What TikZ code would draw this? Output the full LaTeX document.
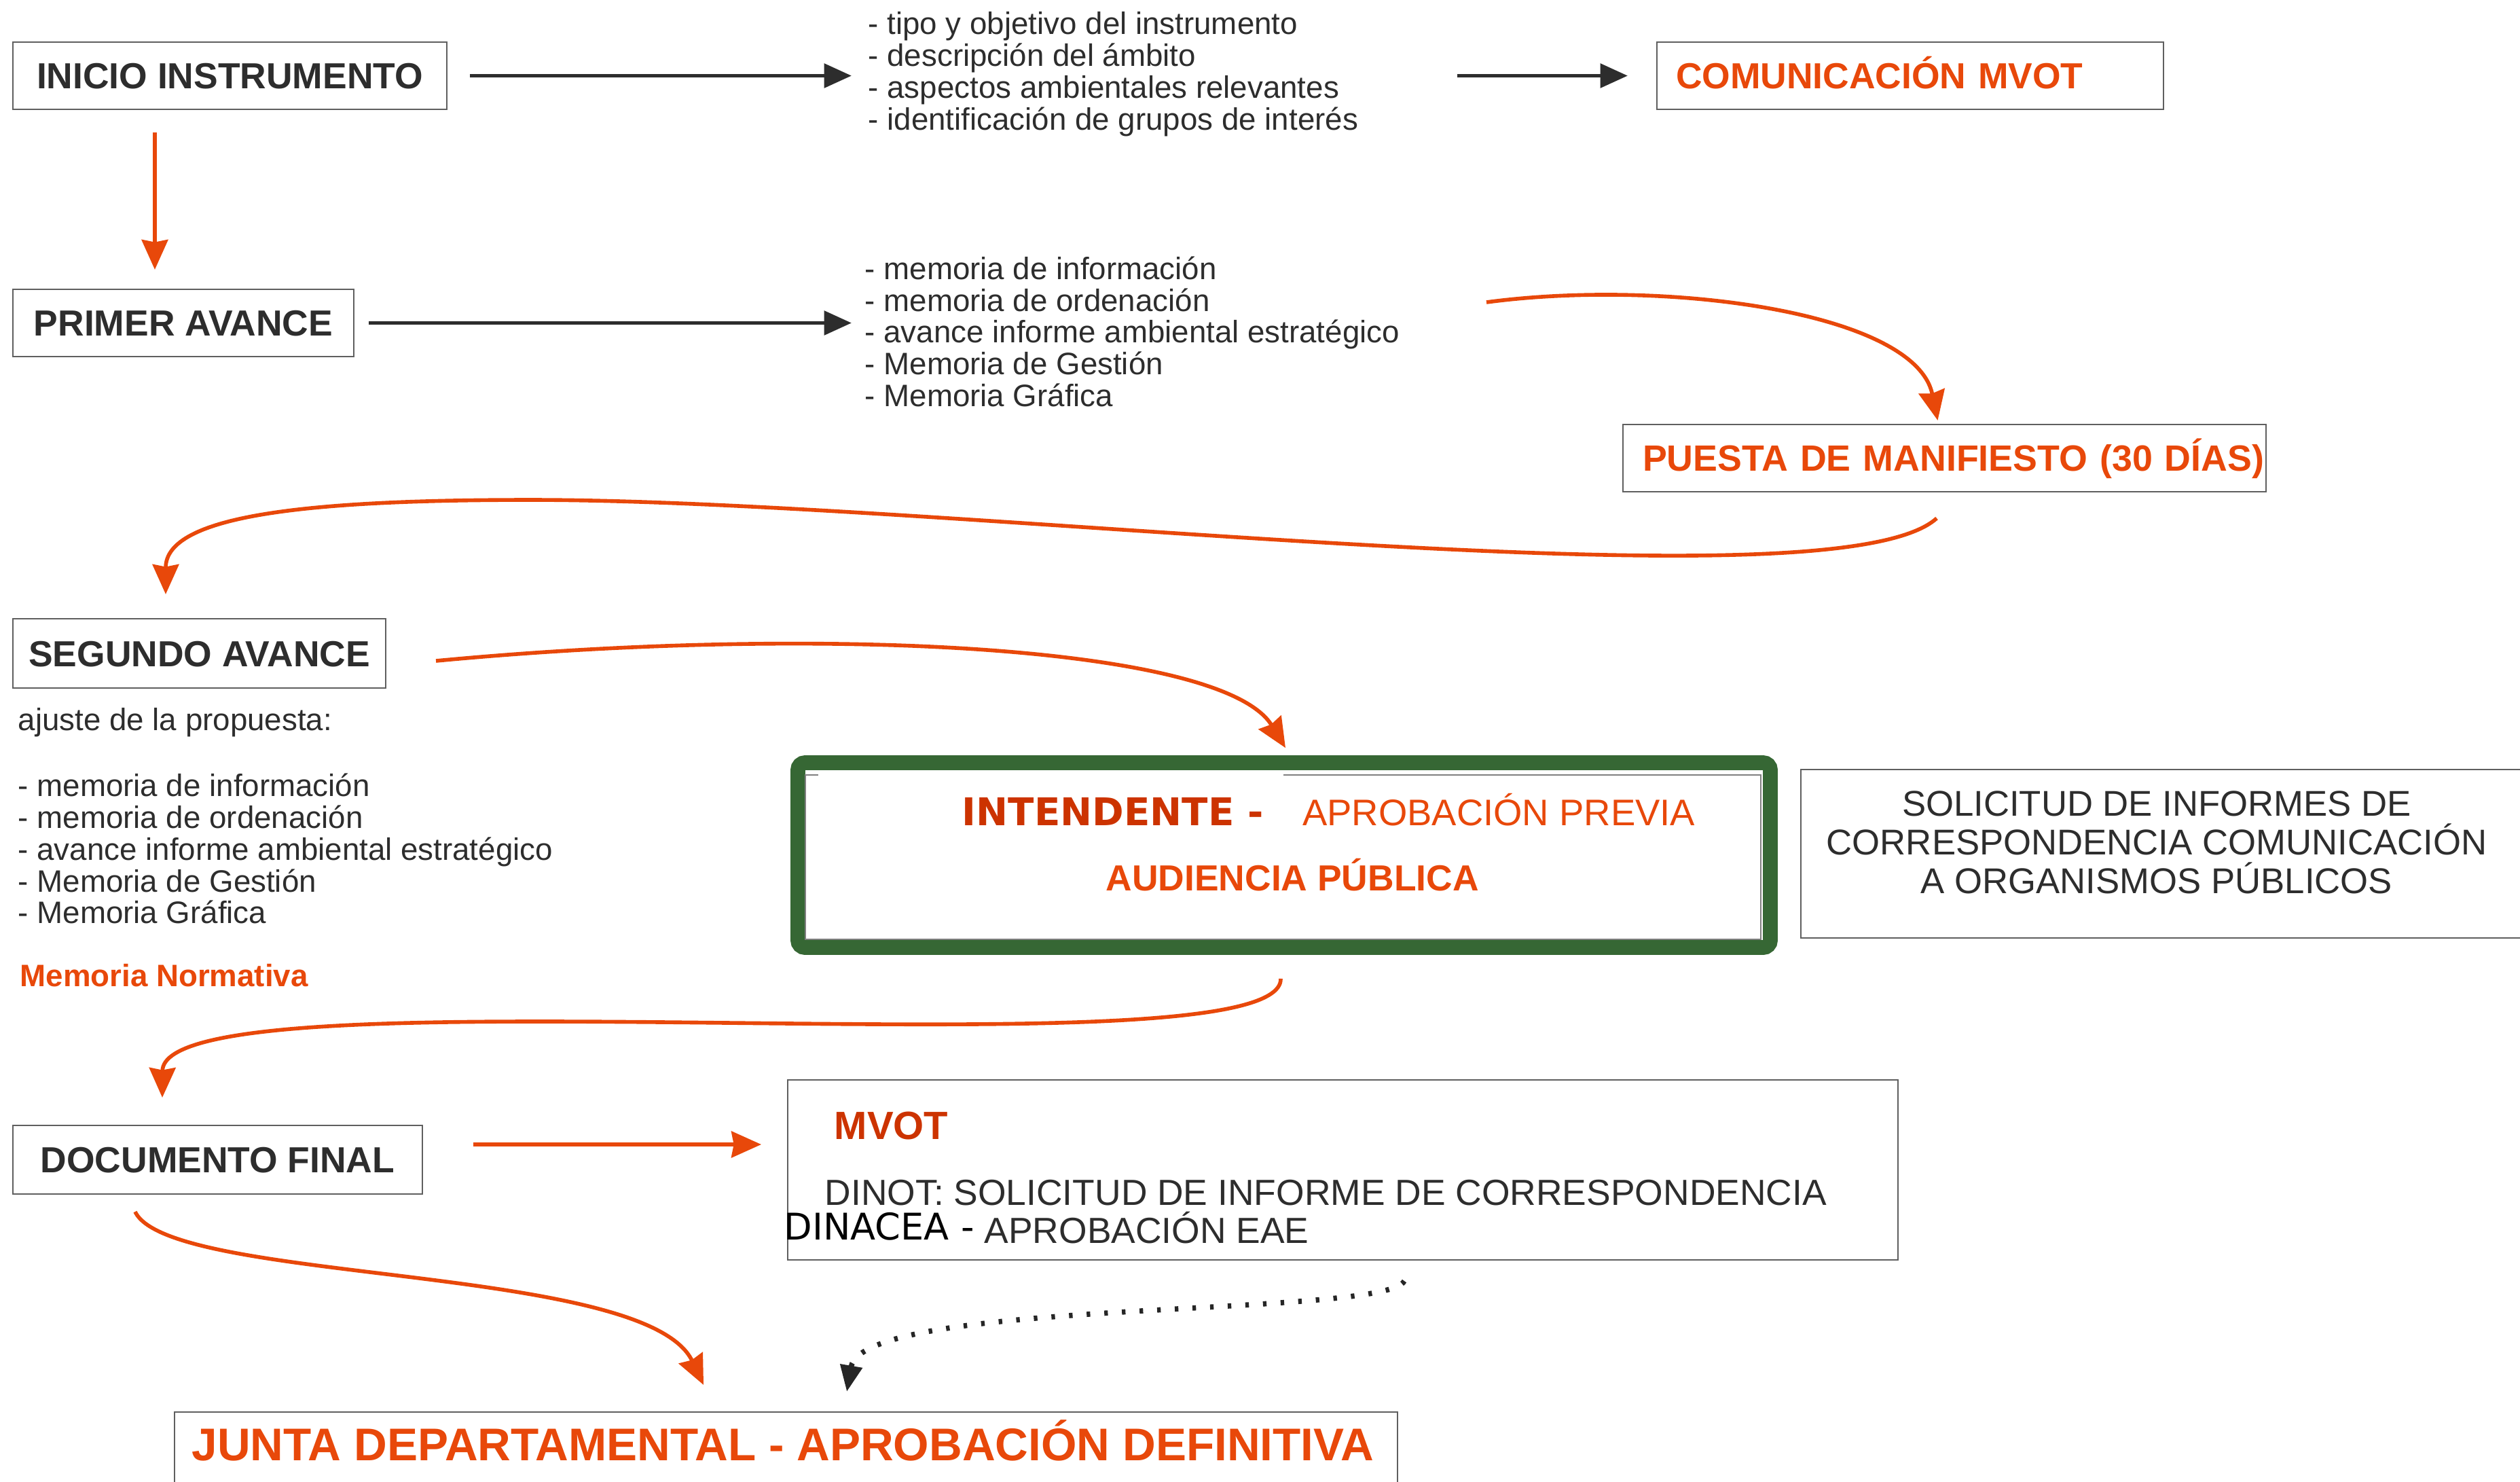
\documentclass[tikz,border=0pt]{standalone}
\usepackage{fontspec}
\setmainfont{Liberation Sans}
\newfontfamily\dejavu{DejaVu Sans}
\usetikzlibrary{arrows.meta,calc}
\definecolor{orng}{RGB}{232,72,10}
\definecolor{rust}{RGB}{204,51,0}
\definecolor{txtgray}{RGB}{45,45,45}
\definecolor{boxgray}{RGB}{95,95,95}
\definecolor{frame}{RGB}{54,103,52}

\begin{document}
\begin{tikzpicture}[
        stage/.style={draw=boxgray, line width=0.6pt, inner sep=0pt, text=txtgray,
            font=\fontsize{15.2}{18}\selectfont\bfseries, text height=10.9pt, text depth=0pt},
        items/.style={align=left, anchor=north west, inner sep=0pt, text=txtgray,
            font=\fontsize{13}{13.3}\selectfont},
        blkarrow/.style={draw=txtgray, line width=1.6pt, -{Triangle[length=11.5pt,width=10pt]}},
        orarrow/.style={draw=orng, line width=1.6pt, -{Stealth[length=12.5pt,width=11pt,inset=1pt]}},
        dotarrow/.style={draw=black!85, line width=2.2pt, dash pattern=on 1.5pt off 5.9pt,
            -{Triangle[length=11pt,width=9pt]}}]
        \useasboundingbox (0,0) rectangle (37.11,-21.81);
        \clip (0,0) rectangle (37.11,-21.81);

        % Stages
        \node[stage, minimum width=6.39cm, minimum height=0.99cm] (inicio) at (3.385,-1.115) {INICIO INSTRUMENTO};
        \node[stage, text=orng, minimum height=0.99cm, text width=6.90cm, inner xsep=0.28cm, align=left] (comunic) at (28.13,-1.115) {COMUNICACIÓN MVOT};
        \node[stage, minimum width=5.02cm, minimum height=0.99cm] (primer) at (2.70,-4.755) {PRIMER AVANCE};
        \node[stage, text=orng, font=\fontsize{15.3}{18}\selectfont\bfseries, minimum height=0.99cm, text width=8.89cm, inner xsep=0.29cm, align=left] (puesta) at (28.635,-6.745) {\mbox{PUESTA DE MANIFIESTO (30 DÍAS)}};
        \node[stage, minimum width=5.49cm, minimum height=1.02cm] (segundo) at (2.935,-9.62) {SEGUNDO AVANCE};
        \node[stage, minimum width=6.03cm, minimum height=1.01cm] (documento) at (3.205,-17.075) {DOCUMENTO FINAL};

        % Contents
        \node[items] (listA) at (12.78,-0.17) {- tipo y objetivo del instrumento\\- descripción del ámbito\\- aspectos ambientales relevantes\\- identificación de grupos de interés};
        \node[items] (listB) at (12.73,-3.77) {- memoria de información\\- memoria de ordenación\\- avance informe ambiental estratégico\\- Memoria de Gestión\\- Memoria Gráfica};
        \node[items] (ajuste) at (0.26,-10.42) {ajuste de la propuesta:\\[14.3pt]- memoria de información\\- memoria de ordenación\\- avance informe ambiental estratégico\\- Memoria de Gestión\\- Memoria Gráfica};
        \node[anchor=base west, inner sep=0pt, text=orng, font=\fontsize{13}{15}\selectfont\bfseries] (normativa) at (0.29,-14.52) {Memoria Normativa};

        % Intendente
        \node[draw=frame, line width=6.2pt, rounded corners=3pt, minimum width=14.32cm, minimum height=2.72cm, inner sep=0pt] (intend) at (18.91,-12.59) {};
        \draw[boxgray!80, line width=0.6pt] (18.90,-11.41) -- (25.93,-11.41) -- (25.93,-13.83) -- (11.86,-13.83) -- (11.86,-11.41) -- (12.05,-11.41);
        \node[anchor=base west, inner sep=0pt] (intendtxt) at (14.16,-12.15) {\textcolor{rust}{\dejavu\bfseries\fontsize{16}{19}\selectfont INTENDENTE -}\hspace{16.4pt}\textcolor{orng}{\fontsize{15.5}{18}\selectfont APROBACIÓN PREVIA}};
        \node[anchor=base west, inner sep=0pt, text=orng, font=\fontsize{15.2}{18}\selectfont\bfseries] (audiencia) at (16.28,-13.11) {AUDIENCIA PÚBLICA};

        % Organismos
        \node[draw=boxgray, line width=0.6pt, minimum width=11cm, minimum height=2.48cm, anchor=north west, inner sep=0pt] (solbox) at (26.51,-11.32) {};
        \node[align=center, inner sep=0pt, text=txtgray, font=\fontsize{15}{16.2}\selectfont] (solicitud) at (31.76,-12.40) {SOLICITUD DE INFORMES DE\\CORRESPONDENCIA COMUNICACIÓN\\A ORGANISMOS PÚBLICOS};

        % MVOT
        \node[draw=boxgray, line width=0.6pt, minimum width=16.35cm, minimum height=2.65cm, inner sep=0pt] (mvot) at (19.775,-17.225) {};
        \node[anchor=base west, inner sep=0pt, text=rust, font=\fontsize{16.5}{19}\selectfont\bfseries] (mvottxt) at (12.28,-16.77) {MVOT};
        \node[anchor=base west, inner sep=0pt, text=txtgray, font=\fontsize{15.2}{18}\selectfont] (dinot) at (12.14,-17.74) {DINOT: SOLICITUD DE INFORME DE CORRESPONDENCIA};
        \node[anchor=base west, inner sep=0pt, text=black, font=\dejavu\fontsize{15.4}{18}\selectfont] (dinacea) at (11.54,-18.25) {DINACEA -};
        \node[anchor=base west, inner sep=0pt, text=txtgray, font=\fontsize{15.2}{18}\selectfont] (eae) at (14.49,-18.30) {APROBACIÓN EAE};

        % Junta
        \node[draw=boxgray, line width=0.6pt, minimum width=18.01cm, minimum height=1.5cm, anchor=north west, inner sep=0pt] (junta) at (2.56,-20.78) {};
        \node[anchor=base west, inner sep=0pt, text=orng, font=\fontsize{19.2}{22}\selectfont\bfseries] (juntatxt) at (2.82,-21.50) {JUNTA DEPARTAMENTAL - APROBACIÓN DEFINITIVA};

        % Black arrows
        \draw[blkarrow] ([xshift=3.3mm]inicio.east) -- ($(listA.west |- inicio.east)+(-0.24,0)$);
        \draw[blkarrow] ([xshift=-29.3mm]comunic.west) -- ([xshift=-4.2mm]comunic.west);
        \draw[blkarrow] ([xshift=2.1mm]primer.east) -- ($(listB.west |- primer.east)+(-0.19,0)$);

        % Orange flow
        \coordinate (memfin) at (21.89,-4.45);
        \coordinate (turn) at (7.81,-7.36);
        \draw[orarrow] ([xshift=-11.05mm,yshift=-3.3mm]inicio.south) -- ([xshift=-4.2mm,yshift=2.8mm]primer.north);
        \draw[orarrow] (memfin) .. controls +(2.61,0.35) and +(-0.33,1.6) .. ([xshift=-1mm,yshift=0.5mm]puesta.north);
        \draw[orarrow] ([xshift=-1.15mm,yshift=-3.8mm]puesta.south) .. controls +(-1.52,-1.38) and +(6.19,0) .. (turn)
            .. controls +(-3.31,0) and +(0,1.16) .. ([xshift=-4.95mm,yshift=3.5mm]segundo.north);
        \draw[orarrow] ([xshift=7.3mm,yshift=-1.1mm]segundo.east) .. controls +(5.59,0.53) and +(-0.93,1.52) .. ([xshift=0.2mm,yshift=1.1mm]intend.north);
        \draw[orarrow] ([xshift=-0.5mm,yshift=-3.5mm]intend.south) .. controls +(0.04,-1.5) and +(0.01,1.97) .. ([xshift=-8.15mm,yshift=4mm]documento.north);
        \draw[orarrow] ([xshift=7.4mm,yshift=2.25mm]documento.east) -- ++(4.24,0);
        \draw[orarrow] ([xshift=-12.15mm,yshift=-2.5mm]documento.south) .. controls +(0.51,-1.07) and +(-0.85,1.79) .. ([xshift=-12.15mm,yshift=3.9mm]junta.north);
        \draw[dotarrow] ([xshift=9.05mm,yshift=-3mm]mvot.south) .. controls +(-0.28,-0.55) and +(0.24,1.39) .. ([xshift=8.95mm,yshift=2.9mm]junta.north);
    \end{tikzpicture}
\end{document}
